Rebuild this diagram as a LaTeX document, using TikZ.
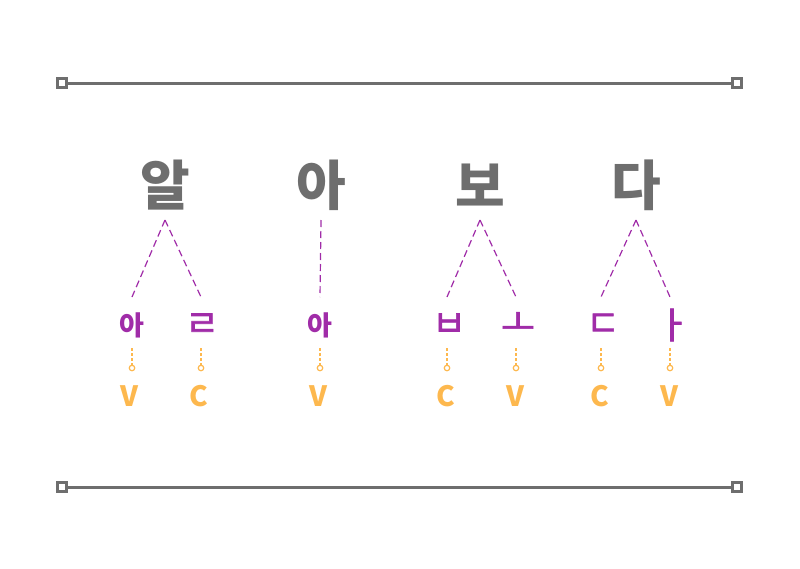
\documentclass[tikz,border=0pt]{standalone}
\usepackage{fontspec}
\newfontfamily\kr{Noto Sans CJK KR}
\newfontfamily\krf[FakeBold=1.6]{Noto Sans CJK KR}
\definecolor{gr}{HTML}{6E6E6E}
\definecolor{pu}{HTML}{A02CA8}
\definecolor{orn}{HTML}{FDB84E}
\tikzset{
  syl/.style={text=gr,font=\kr\bfseries\fontsize{54}{60}\selectfont,inner sep=0pt,anchor=center},
  jamo/.style={text=pu,font=\kr\bfseries\fontsize{27}{30}\selectfont,inner sep=0pt,anchor=center},
  cj/.style={text=pu,font=\krf\fontsize{37}{40}\selectfont,inner sep=0pt,anchor=center},
  cv/.style={text=orn,font=\kr\bfseries\fontsize{28}{32}\selectfont,inner sep=0pt,anchor=center},
  pline/.style={draw=pu,line width=1.2pt,dash pattern=on 7pt off 4pt},
  oline/.style={draw=orn,line width=1.2pt,dash pattern=on 3pt off 2pt},
  rule/.style={draw=gr,line width=3pt},
  endsq/.style={draw=gr,line width=2.2pt,fill=white,minimum size=9pt,inner sep=0pt,rectangle},
  dot/.style={draw=orn,line width=1.2pt,fill=white,circle,minimum size=5.5pt,inner sep=0pt}
}
\begin{document}
\begin{tikzpicture}[x=1pt,y=-1pt]
\useasboundingbox (0,0) rectangle (800,568);
% rules
\node[endsq] (tl) at (62,83) {};
\node[endsq] (tr) at (737,83) {};
\node[endsq] (bl) at (62,487) {};
\node[endsq] (br) at (737,487) {};
\draw[rule] (tl) -- (tr);
\draw[rule] (bl) -- (br);
% syllables
\node[syl] (s1) at (165,185) {알};
\node[syl] (s2) at (321,185) {아};
\node[syl] (s3) at (480,185) {보};
\node[syl] (s4) at (636,185) {다};
\coordinate (t1) at (165,220);
\coordinate (t2) at (321,220);
\coordinate (t3) at (480,220);
\coordinate (t4) at (636,220);
% jamo
\node[jamo] (j1) at (132,325) {아};
\node[cj] (j2) at (202,325) {ㄹ};
\node[jamo] (j3) at (320,325) {아};
\node[cj] (j4) at (449,325) {ㅂ};
\node[cj] (j5) at (518,324) {ㅗ};
\node[cj] (j6) at (603,325) {ㄷ};
\node[cj] (j7) at (673,325) {ㅏ};
\foreach \i/\x in {1/132,2/201,3/320,4/447,5/516,6/601,7/670}{
  \coordinate (a\i) at (\x,297);
  \coordinate (b\i) at (\x,348);
  \node[dot] (d\i) at (\x,368) {};
}
\draw[pline] (t1) -- (a1);
\draw[pline] (t1) -- (a2);
\draw[pline] (t2) -- (a3);
\draw[pline] (t3) -- (a4);
\draw[pline] (t3) -- (a5);
\draw[pline] (t4) -- (a6);
\draw[pline] (t4) -- (a7);
\foreach \i in {1,...,7}{\draw[oline] (b\i) -- (d\i);}
% CV
\node[cv] (c1) at (130,396) {V};
\node[cv] (c2) at (199,396) {C};
\node[cv] (c3) at (318,396) {V};
\node[cv] (c4) at (446,396) {C};
\node[cv] (c5) at (515,396) {V};
\node[cv] (c6) at (600,396) {C};
\node[cv] (c7) at (669,396) {V};
\end{tikzpicture}
\end{document}
